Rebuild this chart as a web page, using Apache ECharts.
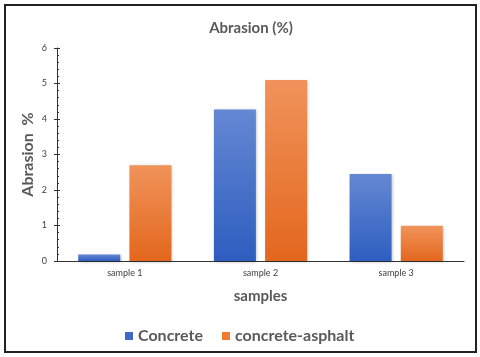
<!DOCTYPE HTML>
<html>
<meta charset="utf-8"/>
<style>
  html, body { margin: 0; padding: 0; background: #fff; }
</style>
<div id="main" style="width: 480px;height:357px;"></div>
<script src="https://cdn.jsdelivr.net/npm/echarts@6/dist/echarts.min.js"></script>
<script>
var categories = ['sample 1', 'sample 2', 'sample 3'];
var concrete = [0.18, 4.27, 2.45];
var concreteAsphalt = [2.70, 5.10, 0.99];
var seriesNames = ['Concrete', 'concrete-asphalt'];

var FONT = 'Lato';
var GREY = '#595959';

function grad(top, bottom) {
    return new echarts.graphic.LinearGradient(0, 0, 0, 1, [
        { offset: 0, color: top },
        { offset: 1, color: bottom }
    ]);
}

var myChart = echarts.init(document.getElementById('main'));
var option = {
    animation: false,
    title: {
        text: 'Abrasion (%)',
        left: 246,
        textAlign: 'center',
        top: 16,
        textStyle: { fontFamily: FONT, fontSize: 15, fontWeight: 'bold', color: GREY }
    },
    legend: {
        left: 120,
        top: 323,
        icon: 'rect',
        itemWidth: 8,
        itemHeight: 8,
        itemGap: 19,
        textStyle: { fontFamily: FONT, fontSize: 16, fontWeight: 'bold', color: GREY },
        data: [
            { name: seriesNames[0], itemStyle: { color: '#3d68c8' } },
            { name: seriesNames[1], itemStyle: { color: '#ef7b2e' } }
        ]
    },
    grid: { left: 57, top: 48, right: 16, bottom: 96 },
    xAxis: [{
        type: 'category',
        data: categories,
        name: 'samples',
        nameLocation: 'middle',
        nameGap: 28,
        nameMoveOverlap: false,
        nameTextStyle: { fontFamily: FONT, fontSize: 15, fontWeight: 'bold', color: GREY },
        axisLine: { lineStyle: { color: '#333', width: 1 } },
        axisTick: { inside: true, length: 4, lineStyle: { color: '#333' } },
        axisLabel: { fontFamily: FONT, fontSize: 9, color: '#404040', margin: 8 }
    }, {
        type: 'category',
        data: categories,
        position: 'bottom',
        axisLine: { show: false },
        axisTick: { alignWithLabel: true, inside: false, length: 3, lineStyle: { color: '#333' } },
        axisLabel: { show: false }
    }],
    yAxis: [{
        type: 'value',
        min: 0,
        max: 6,
        interval: 1,
        name: 'Abrasion  %',
        nameLocation: 'middle',
        nameGap: 21,
        nameMoveOverlap: false,
        nameTextStyle: { fontFamily: FONT, fontSize: 16, fontWeight: 'bold', color: GREY },
        axisLine: { show: true, lineStyle: { color: '#333', width: 1 } },
        axisTick: { show: true, inside: true, length: 3, lineStyle: { color: '#333' } },
        minorTick: { show: true, splitNumber: 5, length: 2, lineStyle: { color: '#333' } },
        splitLine: { show: false },
        axisLabel: { fontFamily: FONT, fontSize: 9, color: '#404040', margin: 10 }
    }, {
        type: 'value',
        min: 0,
        max: 6,
        interval: 1,
        position: 'left',
        axisLine: { show: false },
        axisTick: { show: true, inside: false, length: 3, lineStyle: { color: '#333' } },
        splitLine: { show: false },
        axisLabel: { show: false }
    }],
    graphic: [{
        type: 'rect',
        shape: { x: 5, y: 5, width: 471, height: 347 },
        style: { fill: null, stroke: '#222', lineWidth: 2 },
        silent: true
    }],
    series: [{
        name: seriesNames[0],
        type: 'bar',
        data: concrete,
        barWidth: 42,
        barGap: '22%',
        itemStyle: {
            color: grad('#6588d3', '#2d5ec0'),
            shadowColor: 'rgba(0,0,0,0.25)',
            shadowBlur: 3,
            shadowOffsetX: 1,
            shadowOffsetY: 1
        }
    }, {
        name: seriesNames[1],
        type: 'bar',
        data: concreteAsphalt,
        barWidth: 42,
        itemStyle: {
            color: grad('#f0935b', '#e3671d'),
            shadowColor: 'rgba(0,0,0,0.25)',
            shadowBlur: 3,
            shadowOffsetX: 1,
            shadowOffsetY: 1
        }
    }]
};
myChart.setOption(option);
</script>
</html>
